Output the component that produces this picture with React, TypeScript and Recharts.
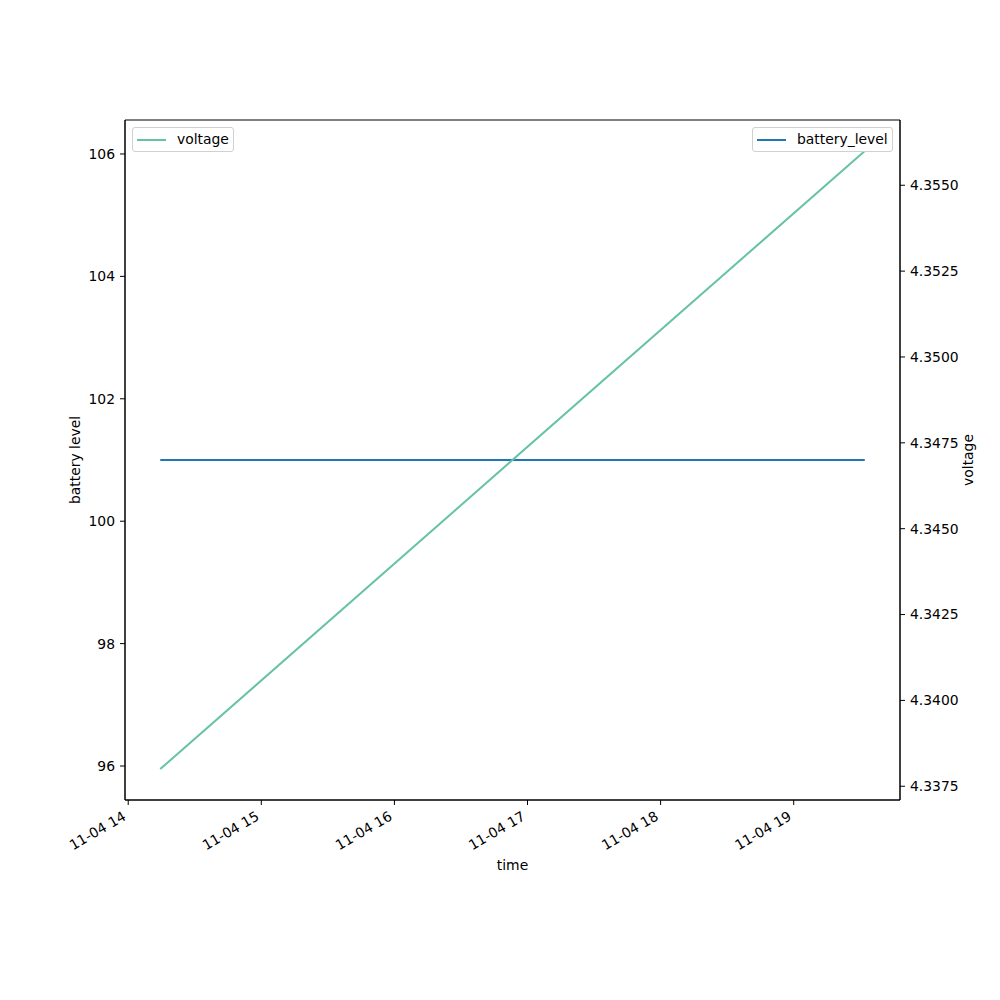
import { LineChart, Line, XAxis, YAxis, Legend, ReferenceArea } from "recharts"

const times = ["11-04 14:14:26", "11-04 19:32:02"]
const batteryLevel = [101, 101]
const voltage = [4.338, 4.356]

const xTicks = [14, 15, 16, 17, 18, 19]
const leftTicks = [96, 98, 100, 102, 104, 106]
const rightTicks = [4.3375, 4.34, 4.3425, 4.345, 4.3475, 4.35, 4.3525, 4.355]

const FONT = "DejaVu Sans"
const FS = 13.9

const toHours = (s: string) => {
    const [h, m, sec] = s.split(" ")[1].split(":").map(Number)
    return h + m / 60 + sec / 3600
}

const data = times.map((t, i) => ({
    t: toHours(t),
    battery_level: batteryLevel[i],
    voltage: voltage[i],
}))

// matplotlib-style 5% margins
const tMin = data[0].t
const tMax = data[data.length - 1].t
const tPad = (tMax - tMin) * 0.05
const vPad = (Math.max(...voltage) - Math.min(...voltage)) * 0.05

const XTick = (props: any) => {
    const { x, y, payload } = props
    const ox = x - 6.5
    const oy = y
    return (
        <text
            x={ox}
            y={oy}
            textAnchor="end"
            dy="0.76em"
            transform={`rotate(-30 ${ox} ${oy})`}
            fontFamily={FONT}
            fontSize={FS}
            fill="#000"
        >
            {`11-04 ${payload.value}`}
        </text>
    )
}

const LegendBoxes = () => (
    <div style={{ position: "relative", width: 1000, height: 0, fontFamily: FONT, fontSize: FS }}>
        <div
            style={{
                position: "absolute",
                left: 132,
                top: 127,
                width: 100,
                height: 23,
                border: "1px solid #d0d0d0",
                borderRadius: 3,
                background: "rgba(255,255,255,0.8)",
            }}
        >
            <div style={{ position: "absolute", left: 4, top: 11, width: 29, height: 2, background: "#66c2a5" }} />
            <span style={{ position: "absolute", left: 44, top: 3, lineHeight: "16px", color: "#000" }}>voltage</span>
        </div>
        <div
            style={{
                position: "absolute",
                left: 752,
                top: 127,
                width: 139,
                height: 23,
                border: "1px solid #d0d0d0",
                borderRadius: 3,
                background: "rgba(255,255,255,0.8)",
            }}
        >
            <div style={{ position: "absolute", left: 4, top: 11, width: 29, height: 2, background: "#1f77b4" }} />
            <span style={{ position: "absolute", left: 44, top: 3, lineHeight: "16px", color: "#000" }}>battery_level</span>
        </div>
    </div>
)

export default function App() {
    const tickStyle = { fill: "#000", fontSize: FS, fontFamily: FONT }
    return (
        <div style={{ position: "absolute", left: 0, top: 0, width: 1000, height: 1000, background: "#fff" }}>
            <LineChart
                width={1000}
                height={1000}
                data={data}
                margin={{ top: 120, right: 0, left: 65, bottom: 0 }}
            >
                <XAxis
                    dataKey="t"
                    type="number"
                    domain={[tMin - tPad, tMax + tPad]}
                    ticks={xTicks}
                    height={200}
                    tick={<XTick />}
                    tickSize={5}
                    tickMargin={5}
                    stroke="#000"
                    allowDataOverflow
                    label={{
                        content: () => (
                            <text x={512.5} y={870} textAnchor="middle" fontFamily={FONT} fontSize={FS} fill="#000">
                                time
                            </text>
                        ),
                    }}
                />
                <YAxis
                    yAxisId="left"
                    orientation="left"
                    width={60}
                    domain={[95.445, 106.555]}
                    ticks={leftTicks}
                    tick={tickStyle}
                    tickSize={5}
                    tickMargin={5}
                    stroke="#000"
                    allowDataOverflow
                    label={{
                        content: () => (
                            <text
                                x={80}
                                y={460}
                                textAnchor="middle"
                                transform="rotate(-90 80 460)"
                                fontFamily={FONT}
                                fontSize={FS}
                                fill="#000"
                            >
                                battery level
                            </text>
                        ),
                    }}
                />
                <YAxis
                    yAxisId="right"
                    orientation="right"
                    width={100}
                    domain={[Math.min(...voltage) - vPad, Math.max(...voltage) + vPad]}
                    ticks={rightTicks}
                    tickFormatter={(v: number) => v.toFixed(4)}
                    tick={tickStyle}
                    tickSize={5}
                    tickMargin={5}
                    stroke="#000"
                    allowDataOverflow
                    label={{
                        content: () => (
                            <text
                                x={973}
                                y={460}
                                textAnchor="middle"
                                transform="rotate(-90 973 460)"
                                fontFamily={FONT}
                                fontSize={FS}
                                fill="#000"
                            >
                                voltage
                            </text>
                        ),
                    }}
                />
                <ReferenceArea
                    yAxisId="left"
                    x1={tMin - tPad}
                    x2={tMax + tPad}
                    y1={95.445}
                    y2={106.555}
                    fill="none"
                    stroke="#000"
                    strokeWidth={1}
                    ifOverflow="visible"
                />
                <Line
                    yAxisId="left"
                    dataKey="battery_level"
                    type="linear"
                    stroke="#1f77b4"
                    strokeWidth={2}
                    dot={false}
                    isAnimationActive={false}
                />
                <Line
                    yAxisId="right"
                    dataKey="voltage"
                    type="linear"
                    stroke="#66c2a5"
                    strokeWidth={2}
                    dot={false}
                    isAnimationActive={false}
                />
                <Legend
                    layout="horizontal"
                    verticalAlign="middle"
                    align="center"
                    wrapperStyle={{ position: "absolute", top: 0, left: 0, width: 1000, height: 0 }}
                    content={() => <LegendBoxes />}
                />
            </LineChart>
        </div>
    )
}
